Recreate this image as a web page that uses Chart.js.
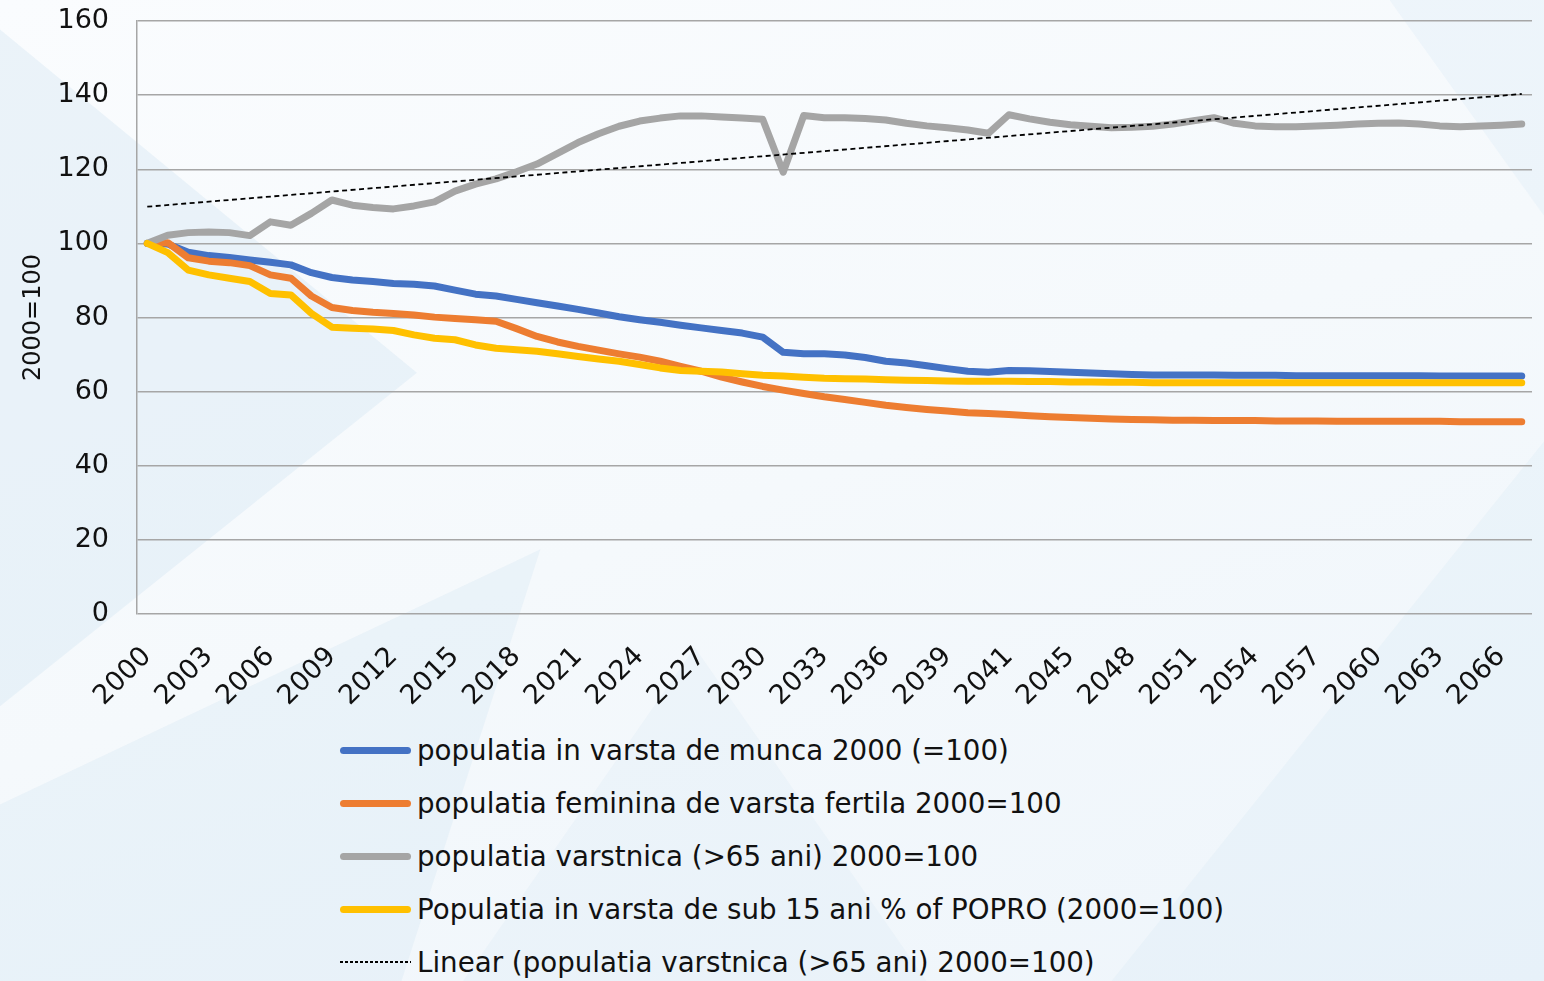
<!DOCTYPE html>
<html>
<head>
<meta charset="utf-8">
<script src="https://cdn.jsdelivr.net/npm/chart.js@4.4.1/dist/chart.umd.min.js"></script>
<style>
  html, body { margin: 0; padding: 0; }
  body {
    width: 1544px; height: 981px; overflow: hidden; position: relative;
    background: linear-gradient(160deg, #fafcfe 0%, #f5f9fc 50%, #eef5fb 100%);
    font-family: "DejaVu Sans", sans-serif;
  }
  .bg { position: absolute; inset: 0; }
  .tri { position: absolute; inset: 0; }
  #wrap { position: absolute; left: 0; top: 0; width: 1544px; height: 720px; }
  #legend { position: absolute; left: 340px; top: 724px; font-size: 27.7px; color: #111; }
  #legend .row { height: 53px; line-height: 53px; white-space: nowrap; }
  #legend .swatch { display: inline-block; width: 71px; height: 7px; border-radius: 4px; vertical-align: middle; margin-right: 6px; position: relative; top: -2px; }
  #legend .dash { height: 1.5px; border-radius: 0; }
</style>
</head>
<body>
<div class="bg">
  <div class="tri" style="background:rgba(205,225,242,0.35);clip-path:polygon(0 3%,27% 38%,0 72%)"></div>
  <div class="tri" style="background:rgba(210,229,243,0.30);clip-path:polygon(0 100%,0 82%,35% 56%,26% 100%)"></div>
  <div class="tri" style="background:rgba(215,232,245,0.25);clip-path:polygon(30% 100%,45% 66%,60% 100%)"></div>
  <div class="tri" style="background:rgba(212,230,244,0.25);clip-path:polygon(72% 100%,100% 45%,100% 100%)"></div>
  <div class="tri" style="background:rgba(220,234,246,0.35);clip-path:polygon(90% 0,100% 0,100% 22%)"></div>
</div>
<div id="wrap"><canvas id="chart"></canvas></div>
<div id="legend"></div>
<script>
// categories (one per plotted point)
const years = [
  '2000','2001','2002','2003','2004','2005','2006','2007','2008','2009',
  '2010','2011','2012','2013','2014','2015','2016','2017','2018','2019',
  '2020','2021','2022','2023','2024','2025','2026','2027','2028','2029',
  '2030','2030','2031','2033','2034','2035','2036','2037','2038','2039',
  '2040','2040','2041','2043','2044','2045','2046','2047','2048','2049',
  '2050','2051','2052','2053','2054','2055','2056','2057','2058','2059',
  '2060','2061','2062','2063','2064','2065','2066','2067'
];

const munca = [
  100, 99.8, 97.6, 96.7, 96.2, 95.5, 94.9, 94.2, 92.1, 90.8,
  90.1, 89.7, 89.2, 89.0, 88.5, 87.4, 86.3, 85.8, 84.9, 84.0,
  83.1, 82.2, 81.2, 80.2, 79.4, 78.7, 77.9, 77.2, 76.5, 75.8,
  74.7, 70.6, 70.2, 70.2, 69.9, 69.2, 68.2, 67.7, 67.0, 66.2,
  65.5, 65.2, 65.7, 65.6, 65.4, 65.2, 65.0, 64.8, 64.6, 64.5,
  64.5, 64.5, 64.5, 64.4, 64.4, 64.4, 64.3, 64.3, 64.3, 64.3,
  64.3, 64.3, 64.3, 64.2, 64.2, 64.2, 64.2, 64.2
];
const feminina = [
  100, 100.2, 96.1, 95.2, 94.8, 94.0, 91.5, 90.6, 85.8, 82.7,
  81.9, 81.4, 81.1, 80.7, 80.1, 79.7, 79.4, 79.0, 77.0, 74.9,
  73.4, 72.2, 71.2, 70.2, 69.3, 68.2, 66.8, 65.5, 63.9, 62.6,
  61.4, 60.4, 59.5, 58.6, 57.9, 57.1, 56.3, 55.7, 55.2, 54.8,
  54.3, 54.1, 53.8, 53.5, 53.2, 53.0, 52.8, 52.6, 52.5, 52.4,
  52.3, 52.3, 52.2, 52.2, 52.2, 52.1, 52.1, 52.1, 52.0, 52.0,
  52.0, 52.0, 52.0, 52.0, 51.9, 51.9, 51.9, 51.9
];
const varstnica = [
  100, 102.2, 102.9, 103.1, 102.9, 102.1, 105.8, 104.9, 108.1, 111.7,
  110.3, 109.7, 109.3, 110.1, 111.2, 114.1, 116.0, 117.4, 119.3, 121.4,
  124.3, 127.2, 129.6, 131.6, 133.0, 133.8, 134.4, 134.4, 134.1, 133.8,
  133.5, 119.2, 134.5, 133.9, 133.9, 133.7, 133.3, 132.4, 131.7, 131.2,
  130.6, 129.7, 134.7, 133.6, 132.7, 132.0, 131.6, 131.2, 131.3, 131.6,
  132.2, 133.1, 133.9, 132.4, 131.7, 131.5, 131.5, 131.7, 131.9, 132.2,
  132.4, 132.5, 132.2, 131.7, 131.5, 131.7, 131.9, 132.2
];
const sub15 = [
  100, 97.5, 92.8, 91.5, 90.6, 89.7, 86.5, 86.1, 81.1, 77.4,
  77.1, 76.9, 76.5, 75.3, 74.4, 74.0, 72.6, 71.7, 71.3, 70.9,
  70.2, 69.5, 68.8, 68.2, 67.3, 66.4, 65.7, 65.5, 65.3, 64.8,
  64.4, 64.2, 63.9, 63.6, 63.5, 63.4, 63.2, 63.1, 63.0, 62.9,
  62.8, 62.8, 62.8, 62.7, 62.7, 62.6, 62.6, 62.5, 62.5, 62.4,
  62.4, 62.4, 62.4, 62.4, 62.4, 62.4, 62.4, 62.4, 62.4, 62.4,
  62.4, 62.4, 62.4, 62.4, 62.4, 62.4, 62.4, 62.4
];
// linear trend of the >65 series: start and end values
const trendStart = 109.9;
const trendEnd = 140.3;
const trend = years.map((y, i) => i === 0 ? trendStart : (i === years.length - 1 ? trendEnd : null));

const yTicks = [0, 20, 40, 60, 80, 100, 120, 140, 160];

function line(label, data, color, order) {
  return {
    label: label, data: data, borderColor: color, backgroundColor: color,
    borderWidth: 7, pointRadius: 0, tension: 0, order: order,
    borderCapStyle: 'round', borderJoinStyle: 'round'
  };
}

const chart = new Chart(document.getElementById('chart'), {
  type: 'line',
  data: {
    labels: years,
    datasets: [
      line('populatia in varsta de munca 2000 (=100)', munca, '#4472C4', 5),
      line('populatia feminina de varsta fertila 2000=100', feminina, '#ED7D31', 4),
      line('populatia varstnica (>65 ani) 2000=100', varstnica, '#A5A5A5', 3),
      line('Populatia in varsta de sub 15 ani % of POPRO (2000=100)', sub15, '#FFC000', 2),
      {
        label: 'Linear (populatia varstnica (>65 ani) 2000=100)', data: trend,
        borderColor: '#000', borderWidth: 1.8, borderDash: [5, 3.5], pointRadius: 0,
        spanGaps: true, order: 1
      }
    ]
  },
  options: {
    responsive: true, maintainAspectRatio: false, animation: false,
    layout: { padding: { top: 21, right: 12, left: 0, bottom: 0 } },
    plugins: { legend: { display: false }, tooltip: { enabled: false } },
    scales: {
      x: {
        offset: true,
        grid: { display: false, drawTicks: false },
        border: { display: false },
        ticks: {
          autoSkip: false, maxRotation: 45, minRotation: 45, padding: 27,
          color: '#111', font: { family: 'DejaVu Sans', size: 27 },
          callback: (v, i) => i % 3 === 0 ? years[i] : ''
        },
        afterFit: s => { s.height = 106; s.paddingLeft = 0; s.paddingRight = 0; }
      },
      y: {
        min: 0, max: 160,
        afterBuildTicks: s => { s.ticks = yTicks.map(v => ({ value: v })); },
        grid: { color: '#a6a6a6', lineWidth: 1.5, drawTicks: false },
        border: { color: '#a6a6a6', width: 1.5 },
        ticks: { padding: 28, color: '#111', font: { family: 'DejaVu Sans', size: 27 } },
        title: { display: true, text: '2000=100', color: '#111', font: { family: 'DejaVu Sans', size: 24 }, padding: { top: 19, bottom: 0 } },
        afterFit: s => { s.width = 137; s.paddingTop = 0; s.paddingBottom = 0; }
      }
    }
  }
});

// legend as a vertical list under the chart
const legend = document.getElementById('legend');
chart.data.datasets.forEach(ds => {
  const row = document.createElement('div');
  row.className = 'row';
  const sw = document.createElement('span');
  sw.className = 'swatch';
  if (ds.borderDash) {
    sw.className += ' dash';
    sw.style.background = 'repeating-linear-gradient(to right, #000 0 3px, transparent 3px 5px)';
  } else {
    sw.style.background = ds.borderColor;
  }
  row.appendChild(sw);
  row.appendChild(document.createTextNode(ds.label));
  legend.appendChild(row);
});
</script>
</body>
</html>
